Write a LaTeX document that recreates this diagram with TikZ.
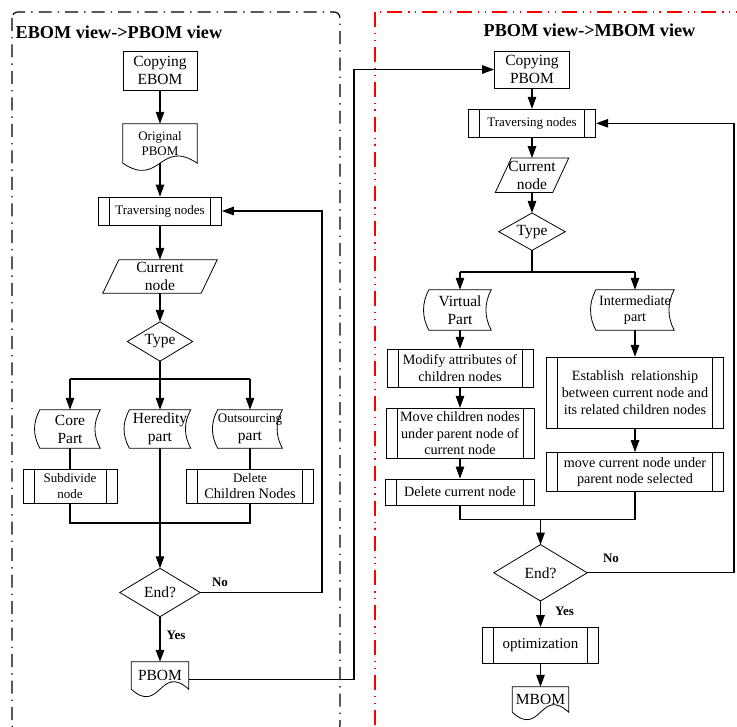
\documentclass[tikz,border=0pt]{standalone}
\usepackage{fontspec}
\setmainfont{Liberation Serif}
\usetikzlibrary{arrows.meta,calc}

% font sizes used in the chart
\newcommand\fsMain{\fontsize{15.5}{18}\selectfont}
\newcommand\fsMid{\fontsize{14.2}{16.8}\selectfont}
\newcommand\fsSmall{\fontsize{13}{15.5}\selectfont}
\newcommand\fsTitle{\fontsize{18.2}{21}\selectfont\bfseries}
\newcommand\fsTag{\fontsize{13}{15}\selectfont\bfseries}

% outlines drawn around invisible rectangular nodes
% document shape: straight top and sides, wavy bottom
\newcommand\bomdoc[2]{\draw[shapeline] (#1.north west) -- (#1.north east) -- (#1.south east)
  .. controls ($(#1.south)+(0,-#2)$) and ($(#1.south)+(0,#2)$) .. (#1.south west) -- cycle;}
% stored data shape: both sides bowed to the left
\newcommand\bomstored[1]{\draw[shapeline] (#1.north west) -- (#1.north east)
  .. controls ($(#1.north east)+(-7,13)$) and ($(#1.south east)+(-7,-13)$) .. (#1.south east)
  -- (#1.south west)
  .. controls ($(#1.south west)+(-7,-13)$) and ($(#1.north west)+(-7,13)$) .. (#1.north west) -- cycle;}
% data (parallelogram) shape
\newcommand\bompara[2]{\draw[shapeline] ([xshift=#2]#1.north west) -- ([xshift=#2]#1.north east)
  -- ([xshift=-#2]#1.south east) -- ([xshift=-#2]#1.south west) -- cycle;}
% decision shape
\newcommand\bomdecision[1]{\draw[shapeline] (#1.north) -- (#1.east) -- (#1.south) -- (#1.west) -- cycle;}

\begin{document}
\begin{tikzpicture}[x=1pt,y=-1pt,
  shapeline/.style={line width=0.8pt},
  flow/.style={line width=1.1pt,-{Triangle[length=12pt,width=8.5pt]}},
  link/.style={line width=1.1pt},
  plain/.style={rectangle,inner sep=0pt,align=center,font=\fsMain},
  box/.style={plain,draw,line width=0.8pt},
  predef/.style={box,path picture={
    \draw[line width=0.8pt]
      ([xshift=11pt]path picture bounding box.north west) -- ([xshift=11pt]path picture bounding box.south west)
      ([xshift=-11pt]path picture bounding box.north east) -- ([xshift=-11pt]path picture bounding box.south east);}},
  tag/.style={inner sep=0pt,font=\fsTag}
]
\useasboundingbox (0,0) rectangle (737,727);

% ---------------- panels ----------------
\draw[line width=1.2pt,rounded corners=6pt,
      dash pattern=on 13pt off 6pt on 1.5pt off 6pt]
  (12,12) rectangle (340,731);
\draw[red,line width=1.2pt,
      dash pattern=on 15pt off 6pt on 1.2pt off 5.5pt on 1.2pt off 6pt]
  (375,12) rectangle (760,740);

\node[font=\fsTitle,anchor=base west,inner sep=0pt] (titleL) at (15.5,38.3) {EBOM view->PBOM view};
\node[font=\fsTitle,anchor=base,inner sep=0pt] (titleR) at (589.5,37) {PBOM view->MBOM view};

% ---------------- EBOM view -> PBOM view ----------------
\node[box,minimum width=74pt,minimum height=39pt] (cpE) at (160,70.5) {Copying\\EBOM};
\node[plain,font=\fsSmall,minimum width=74pt,minimum height=39pt] (origP) at (160,143.5) {Original\\PBOM};
\node[predef,font=\fsSmall,minimum width=123pt,minimum height=28pt] (travL) at (160,211) {Traversing nodes};
\node[plain,minimum width=98pt,minimum height=33pt] (curL) at (160,276.5) {Current\\node};
\node[plain,minimum width=65pt,minimum height=39pt] (typeL) at (160,341.5) {Type};
\node[plain,minimum width=60pt,minimum height=38pt] (core) at (70,429) {Core\\Part};
\node[plain,minimum width=61pt,minimum height=38pt] (hered) at (160,429) {Heredity\\part};
\node[plain,minimum width=62pt,minimum height=38pt] (outs) at (250,429) {{\fsSmall Outsourcing}\\part};
\node[predef,font=\fsSmall,minimum width=94pt,minimum height=34pt] (subd) at (70,486) {Subdivide\\node};
\node[predef,font=\fontsize{13}{15.5}\selectfont,minimum width=127pt,minimum height=34pt] (delC) at (250,486)
  {Delete\\{\fontsize{14.5}{15.5}\selectfont Children Nodes}};
\node[plain,minimum width=80pt,minimum height=48pt] (endL) at (160,592.5) {End?};
\node[plain,minimum width=57pt,minimum height=27pt] (pbom) at (160,675.5) {PBOM};

\bomdoc{origP}{25}
\bompara{curL}{8pt}
\bomdecision{typeL}
\bomstored{core}
\bomstored{hered}
\bomstored{outs}
\bomdecision{endL}
\bomdoc{pbom}{26}

\coordinate (busL) at (0,379);
\coordinate (joinL) at (0,523);
\coordinate (loopL) at (322,0);
\coordinate (midX) at (354,0);

\draw[flow] (cpE) -- (origP);
\draw[flow] (origP) -- (travL);
\draw[flow] (travL) -- (curL);
\draw[flow] (curL) -- (typeL);
\draw[link] (typeL.south) -- (typeL.south |- busL);
\draw[link] (core.north |- busL) -- (outs.north |- busL);
\draw[flow] (core.north |- busL) -- (core.north);
\draw[flow] (hered.north |- busL) -- (hered.north);
\draw[flow] (outs.north |- busL) -- (outs.north);
\draw[link] (core) -- (subd);
\draw[link] (outs) -- (delC);
\draw[link] (subd.south) |- (delC.south |- joinL) -- (delC.south);
\draw[flow] (hered) -- (endL);
\draw[flow] (endL.east) -| (loopL |- travL.east) -- (travL.east);
\draw[flow] (endL) -- (pbom);
\node[tag] (noL) at (220,582) {No};
\node[tag] (yesL) at (176,635) {Yes};

% ---------------- PBOM view -> MBOM view ----------------
\node[box,minimum width=75pt,minimum height=37pt] (cpP) at (532,69.5) {Copying\\PBOM};
\node[predef,font=\fsSmall,minimum width=127.5pt,minimum height=28pt] (travR) at (532,123.3) {Traversing nodes};
\node[plain,minimum width=57pt,minimum height=34pt] (curR) at (532,175.3) {Current\\node};
\node[plain,minimum width=66pt,minimum height=37pt] (typeR) at (532,231.7) {Type};
\node[plain,minimum width=62pt,minimum height=40pt] (virt) at (460,310) {Virtual\\Part};
\node[plain,font=\fsMid,minimum width=78pt,minimum height=40pt] (inter) at (635,310) {Intermediate\\part};
\node[predef,font=\fsMid,minimum width=146pt,minimum height=38pt] (modify) at (460,368.3) {Modify attributes of\\children nodes};
\node[predef,font=\fsMid,minimum width=148pt,minimum height=50pt] (move) at (460,433.3) {Move children nodes\\under parent node of\\current node};
\node[predef,font=\fsMid,minimum width=149pt,minimum height=26pt] (delCur) at (460,492) {Delete current node};
\node[predef,font=\fsMid,minimum width=177pt,minimum height=71pt] (estab) at (635,392.7) {Establish\ \ relationship\\between current node and\\its related children nodes};
\node[predef,font=\fsMid,minimum width=177pt,minimum height=39pt] (moveCur) at (635,472) {move current node under\\parent node selected};
\node[plain,minimum width=93pt,minimum height=56pt] (endR) at (540.5,572.8) {End?};
\node[predef,font=\fontsize{15}{18}\selectfont,minimum width=116pt,minimum height=36pt] (opt) at (540.5,645.5) {optimization};
\node[plain,minimum width=56pt,minimum height=25pt] (mbom) at (540.5,699.5) {MBOM};

\bompara{curR}{8pt}
\bomdecision{typeR}
\bomstored{virt}
\bomstored{inter}
\bomdecision{endR}
\bomdoc{mbom}{26}

\coordinate (busR) at (0,272);
\coordinate (joinR) at (0,519.3);
\coordinate (loopR) at (734,0);

\draw[flow] ([yshift=-4pt]pbom.east) -| (midX |- cpP.west) -- (cpP.west);
\draw[flow] (cpP) -- (travR);
\draw[flow] (travR) -- (curR);
\draw[flow] (curR) -- (typeR);
\draw[link] (typeR.south) -- (typeR.south |- busR);
\draw[link] (virt.north |- busR) -- (inter.north |- busR);
\draw[flow] (virt.north |- busR) -- (virt.north);
\draw[flow] (inter.north |- busR) -- (inter.north);
\draw[flow] (virt) -- (modify);
\draw[flow] (modify) -- (move);
\draw[flow] (move) -- (delCur);
\draw[flow] (inter) -- (estab);
\draw[flow] (estab) -- (moveCur);
\draw[link] (delCur.south) |- (moveCur.south |- joinR) -- (moveCur.south);
\draw[flow] (endR.north |- joinR) -- (endR.north);
\draw[flow] (endR.east) -| (loopR |- travR.east) -- (travR.east);
\draw[flow] (endR) -- (opt);
\draw[flow] (opt) -- (mbom);
\node[tag] (noR) at (611,558) {No};
\node[tag] (yesR) at (564.5,611) {Yes};
\end{tikzpicture}
\end{document}
